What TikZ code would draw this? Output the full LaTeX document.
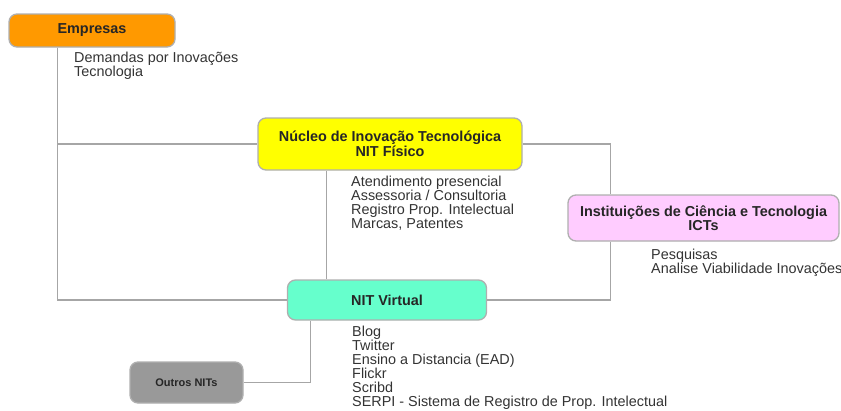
\documentclass[tikz,border=0pt]{standalone}
\usepackage{fontspec}
\setmainfont{Liberation Sans}
\usepackage{tikz}
\definecolor{empcolor}{HTML}{FF9900}
\definecolor{nitcolor}{HTML}{FFFF00}
\definecolor{ictcolor}{HTML}{FFCCFF}
\definecolor{virtcolor}{HTML}{66FFCC}
\definecolor{outcolor}{HTML}{999999}
\definecolor{boxline}{HTML}{AFAFAF}
\definecolor{linegray}{HTML}{A6A6A6}
\definecolor{txtgray}{HTML}{333333}

\begin{document}
\begin{tikzpicture}[x=1pt,y=-1pt,
	every node/.style={font=\fontsize{14.4}{14}\selectfont, text=txtgray},
	box/.style={draw=boxline, line width=1.3pt, rounded corners=8pt, inner sep=0pt, align=center,
		font=\fontsize{14.4}{14.5}\selectfont\bfseries, text=black!85},
	notes/.style={anchor=north west, align=left, inner sep=0pt},
	link/.style={draw=linegray, line width=1.1pt}]
    \useasboundingbox (0,0) rectangle (841,410);

    \node[box, fill=empcolor, minimum width=166pt, minimum height=33pt] (emp) at (92,30.5) {Empresas};
    \node[notes] (empnotes) at (74,52) {Demandas por Inovações\\Tecnologia};

    \node[box, fill=nitcolor, minimum width=264pt, minimum height=52pt] (nit) at (390,144) {Núcleo de Inovação Tecnológica\\NIT Físico};
    \node[notes] (nitnotes) at (351,175.5) {Atendimento presencial\\Assessoria / Consultoria\\Registro Prop. Intelectual\\Marcas, Patentes};

    \node[box, fill=ictcolor, minimum width=271pt, minimum height=46pt] (ict) at (703.5,218) {Instituições de Ciência e Tecnologia\\ICTs};
    \node[notes] (ictnotes) at (651,248.5) {Pesquisas\\Analise Viabilidade Inovações};

    \node[box, fill=virtcolor, minimum width=199pt, minimum height=40pt] (nitv) at (387,300) {NIT Virtual};
    \node[notes] (nitvnotes) at (352,325.5) {Blog\\Twitter\\Ensino a Distancia (EAD)\\Flickr\\Scribd\\SERPI - Sistema de Registro de Prop. Intelectual};

    \node[box, fill=outcolor, font=\fontsize{11}{12}\selectfont\bfseries, minimum width=113pt, minimum height=41pt] (outros) at (186.5,382.5) {Outros NITs};

    \draw[link] ([xshift=49pt]emp.south west) |- (nit.west);
    \draw[link] ([xshift=49pt]emp.south west) |- (nitv.west);
    \draw[link] (nit.east) -| ([xshift=43pt]ict.north west);
    \draw[link] ([xshift=43pt]ict.south west) |- (nitv.east);
    \draw[link] ([xshift=69pt]nit.south west) -- ([xshift=39.5pt]nitv.north west);
    \draw[link] ([xshift=24pt]nitv.south west) |- (outros.east);

\end{tikzpicture}
\end{document}
